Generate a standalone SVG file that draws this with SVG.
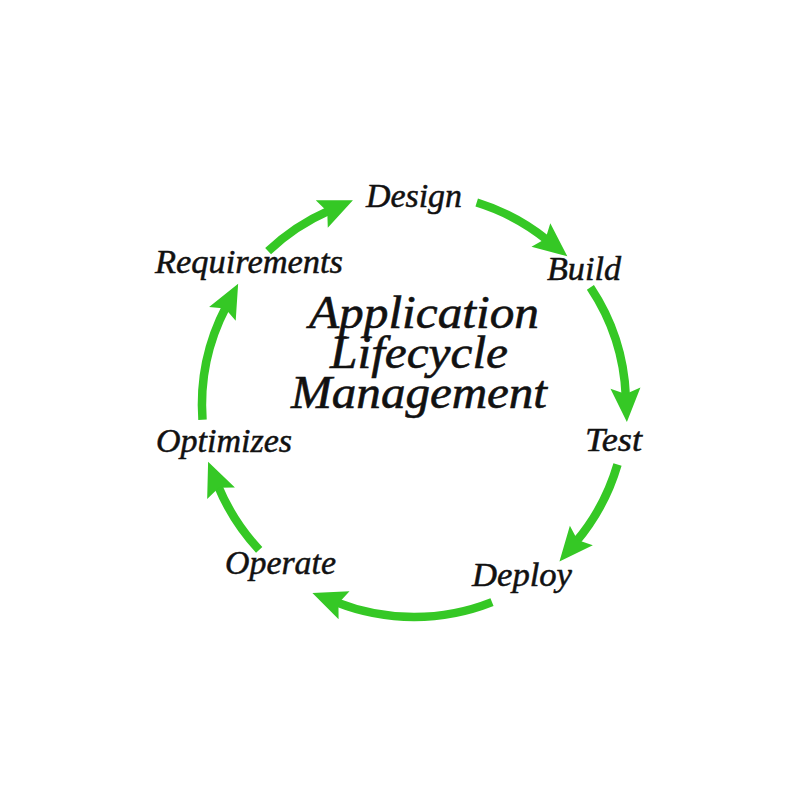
<svg xmlns="http://www.w3.org/2000/svg" width="800" height="800" viewBox="0 0 800 800">
  <defs>
    <marker id="head" markerUnits="userSpaceOnUse" markerWidth="44" markerHeight="44" viewBox="-2 -22 44 44" refX="8" refY="0" orient="auto">
      <path d="M0,-15 L34,0 L0,15 L6,0 Z" fill="#35c825"/>
    </marker>
  </defs>
  <style>
    .arc { fill: none; stroke: #35c825; stroke-width: 8.5; marker-end: url(#head); }
    .lbl { font-family: "Liberation Serif", "DejaVu Serif", serif; font-style: italic; font-size: 34px; fill: #111; stroke: #111; stroke-width: 0.5; }
    .title { font-family: "Liberation Serif", "DejaVu Serif", serif; font-style: italic; font-size: 46px; fill: #111; stroke: #111; stroke-width: 0.6; text-anchor: middle; }
  </style>
  <rect width="800" height="800" fill="#ffffff"/>
  <g id="connectors">
    <path class="arc" d="M268.1,251.2 A212,212 0 0 1 329.1,210.7"/>
    <path class="arc" d="M476.7,202.5 A212,212 0 0 1 547.1,240.0"/>
    <path class="arc" d="M590.4,287.4 A212,212 0 0 1 625.8,396.1"/>
    <path class="arc" d="M617.5,464.5 A212,212 0 0 1 576.2,541.6"/>
    <path class="arc" d="M492.0,602.1 A212,212 0 0 1 336.6,602.4"/>
    <path class="arc" d="M259.2,549.9 A212,212 0 0 1 218.0,485.8"/>
    <path class="arc" d="M202.5,419.8 A212,212 0 0 1 226.1,306.8"/>
  </g>
  <g id="title">
    <text class="title" x="424" y="328" textLength="230" lengthAdjust="spacingAndGlyphs">Application</text>
    <text class="title" x="419" y="368" textLength="178" lengthAdjust="spacingAndGlyphs">Lifecycle</text>
    <text class="title" x="419" y="408" textLength="256" lengthAdjust="spacingAndGlyphs">Management</text>
  </g>
  <g id="design"><text class="lbl" x="366" y="207" textLength="96" lengthAdjust="spacingAndGlyphs">Design</text></g>
  <g id="build"><text class="lbl" x="547" y="280" textLength="74" lengthAdjust="spacingAndGlyphs">Build</text></g>
  <g id="test"><text class="lbl" x="585" y="451" textLength="57" lengthAdjust="spacingAndGlyphs">Test</text></g>
  <g id="deploy"><text class="lbl" x="472" y="586" textLength="100" lengthAdjust="spacingAndGlyphs">Deploy</text></g>
  <g id="operate"><text class="lbl" x="225" y="574" textLength="111" lengthAdjust="spacingAndGlyphs">Operate</text></g>
  <g id="optimizes"><text class="lbl" x="156" y="452" textLength="136" lengthAdjust="spacingAndGlyphs">Optimizes</text></g>
  <g id="requirements"><text class="lbl" x="155" y="273" textLength="188" lengthAdjust="spacingAndGlyphs">Requirements</text></g>
</svg>
